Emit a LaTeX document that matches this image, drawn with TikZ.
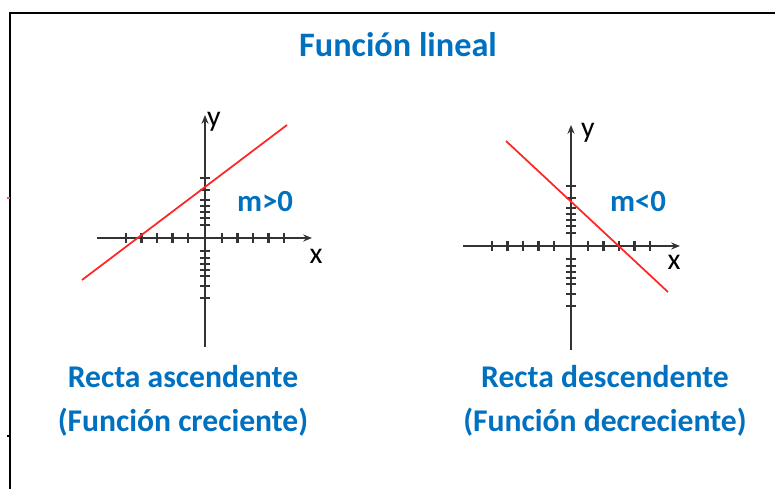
\documentclass[tikz,border=0pt]{standalone}
\usepackage{fontspec}
\setmainfont{Carlito}
\usetikzlibrary{arrows.meta,positioning,calc}
\definecolor{azul}{RGB}{0,112,192}

\begin{document}
\begin{tikzpicture}[x=0.02cm, y=-0.02cm, >={Stealth[length=5pt,width=4pt]},
  titulo/.style={font=\bfseries\fontsize{19.5}{23}\selectfont, text=azul},
  rotulo/.style={font=\bfseries\fontsize{18}{21}\selectfont, text=azul, align=center},
  pend/.style={font=\bfseries\fontsize{17.5}{20}\selectfont, text=azul},
  eje/.style={line width=1.3pt, black!80},
  marca/.style={line width=1.6pt, black!80},
  recta/.style={line width=1pt, red!85!white},
  letra/.style={font=\fontsize{17}{20}\selectfont, inner sep=0pt}]
\useasboundingbox (0,0) rectangle (775,489);
% marco
\draw[line width=1.6pt] (10,13) rectangle (790,500);
\draw[red!70, line width=1.4pt] (7,198) -- (10,198);
\draw[line width=1.4pt] (7,436) -- (10,436);
\node[titulo] (tit) at (398,45) {Función lineal};

% recta ascendente
\coordinate (oA) at (205,238);
\draw[eje, ->] (97,238) -- (312,238);
\draw[eje, ->] (205,347) -- (205,115);
\foreach \k in {1,...,5} {
  \draw[marca] ($(oA)+(1.5+15.5*\k,-5)$) -- ($(oA)+(1.5+15.5*\k,5)$);
  \draw[marca] ($(oA)+(-1.5-15.5*\k,-5)$) -- ($(oA)+(-1.5-15.5*\k,5)$);
}
\foreach \k in {13,20,26,32,38,48,60} {
  \draw[marca] ($(oA)+(-5,\k)$) -- ($(oA)+(5,\k)$);
  \draw[marca] ($(oA)+(-5,-\k)$) -- ($(oA)+(5,-\k)$);
}
\draw[recta] (82,280) -- (287,125);
\node[letra] (yA) at (214,122) {y};
\node[letra] (xA) at (316,256) {x};
\node[pend] (mA) at (265,202) {m>0};
\node[rotulo] (rA) at (183,401) {Recta ascendente\\[4pt](Función creciente)};

% recta descendente
\coordinate (oD) at (571,246);
\draw[eje, ->] (463,246) -- (680,246);
\draw[eje, ->] (571,350) -- (571,125);
\foreach \k in {1,...,5} {
  \draw[marca] ($(oD)+(1.5+15.5*\k,-5)$) -- ($(oD)+(1.5+15.5*\k,5)$);
  \draw[marca] ($(oD)+(-1.5-15.5*\k,-5)$) -- ($(oD)+(-1.5-15.5*\k,5)$);
}
\foreach \k in {13,20,26,32,38,48,60} {
  \draw[marca] ($(oD)+(-5,\k)$) -- ($(oD)+(5,\k)$);
  \draw[marca] ($(oD)+(-5,-\k)$) -- ($(oD)+(5,-\k)$);
}
\draw[recta] (506,141) -- (668,292);
\node[letra] (yD) at (588,133) {y};
\node[letra] (xD) at (674,262) {x};
\node[pend] (mD) at (638,202) {m<0};
\node[rotulo] (rD) at (605,401) {Recta descendente\\[4pt](Función decreciente)};
\end{tikzpicture}
\end{document}
